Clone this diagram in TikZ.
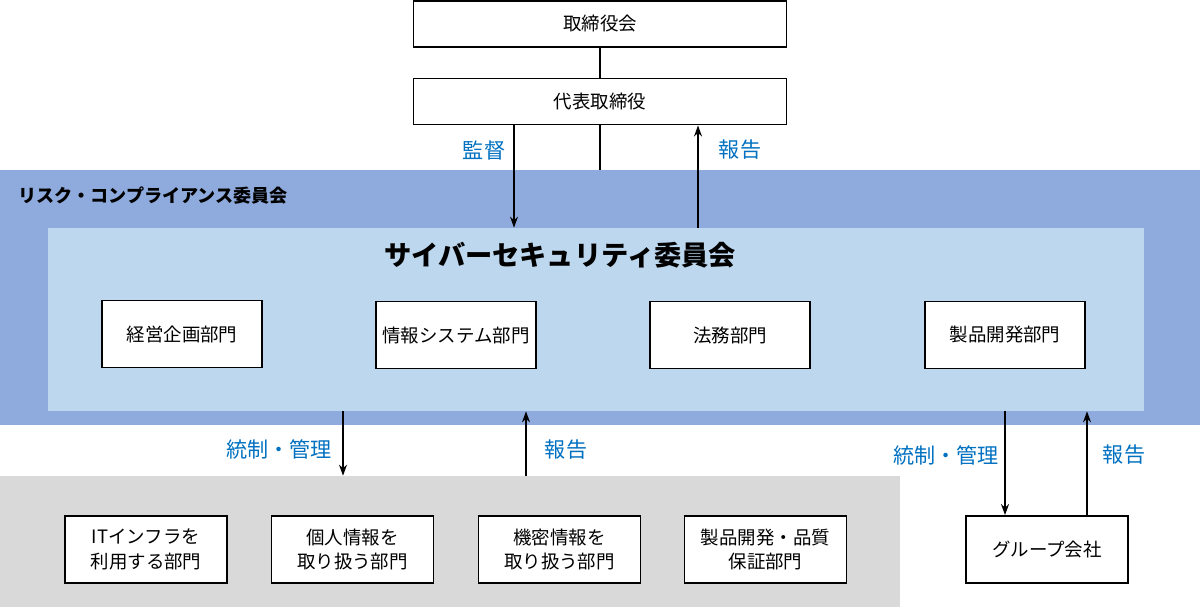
\documentclass[tikz,border=0pt]{standalone}
\usepackage{fontspec}
\setmainfont{Noto Sans CJK JP}
\usepackage{xcolor}
\usepackage{tikz}
\usetikzlibrary{arrows.meta, positioning, calc}
\definecolor{riskblue}{RGB}{143,170,220}
\definecolor{cyberblue}{RGB}{189,215,238}
\definecolor{deptgray}{RGB}{217,217,217}
\definecolor{labelblue}{RGB}{0,112,192}
\tikzset{
  region/.style={rectangle, inner sep=0pt, draw=none},
  topbox/.style={rectangle, draw=black, fill=white, line width=1.1pt,
    minimum width=7.46cm, minimum height=0.92cm,
    font=\fontsize{10.5}{13}\selectfont},
  deptbox/.style={rectangle, draw=black, fill=white, line width=1.1pt,
    minimum width=3.2cm, minimum height=1.34cm, align=center,
    font=\fontsize{10.5}{14}\selectfont},
  lowbox/.style={rectangle, draw=black, fill=white, line width=1.1pt,
    minimum width=3.24cm, minimum height=1.34cm, align=center,
    font=\fontsize{10.5}{14}\selectfont},
  flowlabel/.style={text=labelblue, font=\fontsize{12}{14}\selectfont},
  arrow/.style={-{Stealth[length=2.2mm, width=1.6mm]}, line width=0.8pt, color=black},
  line/.style={line width=0.8pt, color=black}
}

\begin{document}
\begin{tikzpicture}
  \useasboundingbox (0,0) rectangle (24,-12.14);

  % Committee regions
  \node[region, fill=riskblue, minimum width=24cm, minimum height=5.1cm] (risk) at (12,-5.95) {};
  \node[region, fill=cyberblue, minimum width=21.92cm, minimum height=3.66cm] (cyber) at (11.92,-6.39) {};
  \node[region, fill=deptgray, minimum width=18cm, minimum height=2.62cm] (gray) at (9,-10.83) {};

  \node[anchor=west, inner sep=0pt, font=\fontsize{10.3}{13}\selectfont\bfseries] (risktitle) at (0.36,-3.92) {リスク・コンプライアンス委員会};
  \node[font=\fontsize{15.5}{18}\selectfont\bfseries] (cybertitle) at (11.2,-5.1) {サイバーセキュリティ委員会};

  % Board
  \node[topbox] (board) at (12,-0.48) {取締役会};
  \node[topbox] (ceo) at (12,-2.03) {代表取締役};
  \draw[line] (board.south) -- (ceo.north);
  \draw[line] (ceo.south) -- (ceo.south |- risk.north);

  % Member departments
  \node[deptbox] (plan) at (3.64,-6.68) {経営企画部門};
  \node[deptbox] (infosys) at (9.12,-6.7) {情報システム部門};
  \node[deptbox] (legal) at (14.6,-6.7) {法務部門};
  \node[deptbox] (product) at (20.1,-6.7) {製品開発部門};

  % Controlled departments
  \node[lowbox] (infra) at (2.92,-10.99) {ITインフラを\\利用する部門};
  \node[lowbox] (personal) at (7.05,-10.99) {個人情報を\\取り扱う部門};
  \node[lowbox] (secret) at (11.19,-10.99) {機密情報を\\取り扱う部門};
  \node[lowbox] (quality) at (15.31,-10.99) {製品開発・品質\\保証部門};
  \node[lowbox] (group) at (20.94,-10.99) {グループ会社};

  % Arrow positions
  \coordinate (xa) at (10.28,0);
  \coordinate (xb) at (13.96,0);
  \coordinate (xc) at (6.86,0);
  \coordinate (xd) at (10.52,0);
  \coordinate (xe) at (20.1,0);
  \coordinate (xf) at (21.74,0);

  % Supervision and reports
  \draw[arrow] (ceo.south -| xa) -- (cyber.north -| xa);
  \draw[arrow] (cyber.north -| xb) -- (ceo.south -| xb);
  \node[flowlabel] (kantoku) at (9.68,-3.0) {監督};
  \node[flowlabel] (houkoku1) at (14.8,-3.0) {報告};

  \draw[arrow] (cyber.south -| xc) -- (gray.north -| xc);
  \draw[arrow] (gray.north -| xd) -- (cyber.south -| xd);
  \node[flowlabel] (tousei1) at (5.58,-8.98) {統制・管理};
  \node[flowlabel] (houkoku2) at (11.32,-9.0) {報告};

  \draw[arrow] (cyber.south -| xe) -- (group.north -| xe);
  \draw[arrow] (group.north -| xf) -- (cyber.south -| xf);
  \node[flowlabel] (tousei2) at (18.92,-9.1) {統制・管理};
  \node[flowlabel] (houkoku3) at (22.48,-9.1) {報告};
\end{tikzpicture}
\end{document}
